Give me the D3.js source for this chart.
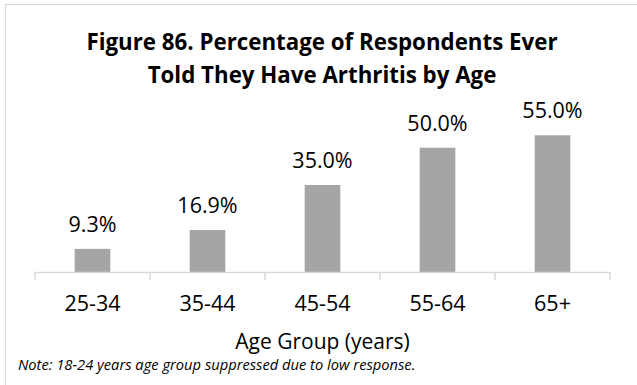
<!DOCTYPE html>
<html><head><meta charset="utf-8">
<script src="https://cdn.jsdelivr.net/npm/d3@7"></script>
<style>
html,body{margin:0;padding:0;background:#fff;}
svg{display:block;}
</style></head>
<body>
<svg id="chart" width="637" height="385"></svg>
<script>
const categories = ["25-34", "35-44", "45-54", "55-64", "65+"];
const values = [9.3, 16.9, 35.0, 50.0, 55.0];
const titleLines = ["Figure 86. Percentage of Respondents Ever", "Told They Have Arthritis by Age"];
const xAxisTitle = "Age Group (years)";
const note = "Note: 18-24 years age group suppressed due to low response.";

const svg = d3.select("#chart");
const font = "'Open Sans', sans-serif";

// chart border
svg.append("rect").attr("x", 5.5).attr("y", 4.5).attr("width", 640).attr("height", 400)
  .attr("fill", "#fff").attr("stroke", "#d9d9d9").attr("stroke-width", 1.3);

const x = d3.scaleBand().domain(categories).range([35, 610]).paddingInner(0.69).paddingOuter(0.345);
const y = d3.scaleLinear().domain([0, 60]).range([272, 272 - 60 * 2.486]);

// title
svg.append("text").attr("text-anchor", "middle").attr("font-family", font)
  .attr("font-weight", "bold").attr("font-size", 22.3).attr("fill", "#000")
  .selectAll("tspan").data(titleLines).join("tspan")
  .attr("x", 322).attr("y", (d, i) => 50 + i * 33).text(d => d);

// bars
svg.append("g").selectAll("rect").data(values).join("rect")
  .attr("x", (d, i) => x(categories[i]))
  .attr("width", x.bandwidth())
  .attr("y", d => y(d))
  .attr("height", d => y(0) - y(d))
  .attr("fill", "#a5a5a5");

// value labels
svg.append("g").selectAll("text").data(values).join("text")
  .attr("x", (d, i) => x(categories[i]) + x.bandwidth() / 2)
  .attr("y", d => y(d) - 17)
  .attr("text-anchor", "middle").attr("font-family", font).attr("font-size", 21.5)
  .attr("fill", "#000").text(d => d.toFixed(1) + "%");

// x axis
const xb = d3.scaleBand().domain(categories).range([35, 610]);
const axis = svg.append("g").attr("transform", `translate(0,${y(0)})`)
  .call(d3.axisBottom(xb).tickSizeInner(0).tickSizeOuter(0).tickPadding(24));
axis.select(".domain").attr("stroke", "#d9d9d9").attr("stroke-width", 1.5);
axis.selectAll(".tick text").attr("font-family", font).attr("font-size", 21.5).attr("fill", "#000");
// category boundary ticks
const bounds = categories.map(c => xb(c)).concat([xb.range()[1]]);
axis.append("g").selectAll("line").data(bounds).join("line")
  .attr("x1", d => d).attr("x2", d => d).attr("y1", 0).attr("y2", 8)
  .attr("stroke", "#d9d9d9").attr("stroke-width", 1.5);

// axis title
svg.append("text").attr("x", 322.5).attr("y", 349).attr("text-anchor", "middle")
  .attr("font-family", font).attr("font-size", 21).attr("fill", "#000").text(xAxisTitle);

// note
svg.append("text").attr("x", 18).attr("y", 370).attr("font-family", font)
  .attr("font-style", "italic").attr("font-size", 14.7).attr("fill", "#000").text(note);
</script>
</body></html>
